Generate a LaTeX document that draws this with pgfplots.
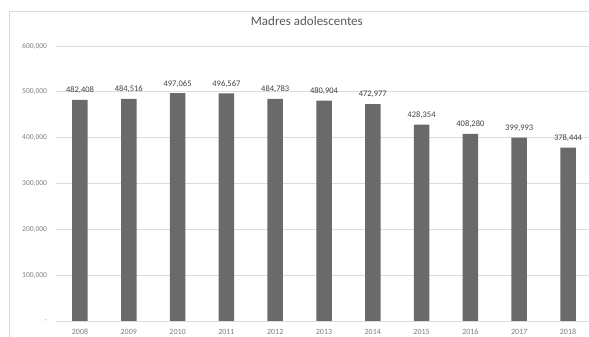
\documentclass[border=0pt]{standalone}
\usepackage{pgfplots}
\pgfplotsset{compat=1.18}
\usepackage{fontspec}
\setmainfont{Carlito}
\definecolor{barcol}{HTML}{6A6A6A}
\definecolor{gridcol}{HTML}{DCDCDC}
\definecolor{bordercol}{HTML}{DADADA}
\definecolor{tickcol}{HTML}{7F7F7F}
\definecolor{labcol}{HTML}{404040}
\definecolor{titlecol}{HTML}{595959}
\begin{document}
\begin{tikzpicture}[x=1pt,y=1pt]
\clip (0,0) rectangle (589,337);
\fill[white] (0,0) rectangle (589,337);
\draw[bordercol, line width=1pt] (9.5,-10) rectangle (620,325.5);
\begin{axis}[
  at={(55.6pt,16pt)}, anchor=south west,
  scale only axis, width=536.8pt, height=275pt,
  xmin=-0.5, xmax=10.5, ymin=0, ymax=600000,
  ybar, bar width=15.5pt,
  axis line style={draw=none},
  major tick length=0pt,
  scaled y ticks=false,
  ymajorgrids, grid style={gridcol, line width=0.9pt},
  xtick={0,...,10},
  xticklabels={2008,2009,2010,2011,2012,2013,2014,2015,2016,2017,2018},
  ytick={0,100000,200000,300000,400000,500000,600000},
  yticklabels={{-\hspace{5pt}},{100,000},{200,000},{300,000},{400,000},{500,000},{600,000}},
  xticklabel style={font=\fontsize{8}{9}\selectfont, color=tickcol, inner sep=0pt, anchor=center, yshift=-11pt},
  yticklabel style={font=\fontsize{7.5}{9}\selectfont, color=tickcol, inner sep=0pt, anchor=east, xshift=-8.5pt},
  /pgf/number format/assume math mode=true,
  title={Madres adolescentes},
  title style={at={(0.468,1.069)}, anchor=center, font=\fontsize{13}{15}\selectfont, color=titlecol, inner sep=0pt},
  point meta=explicit symbolic,
  nodes near coords,
  nodes near coords style={font=\fontsize{8.5}{9}\selectfont, color=labcol, inner sep=0pt, anchor=center, yshift=9.5pt},
]
\addplot[fill=barcol, draw=none] table[x=x, y=y, meta=lab] {
x y lab
0 482408 482,408
1 484516 484,516
2 497065 497,065
3 496567 496,567
4 484783 484,783
5 480904 480,904
6 472977 472,977
7 428354 428,354
8 408280 408,280
9 399993 399,993
10 378444 378,444
};
\end{axis}
\end{tikzpicture}
\end{document}
